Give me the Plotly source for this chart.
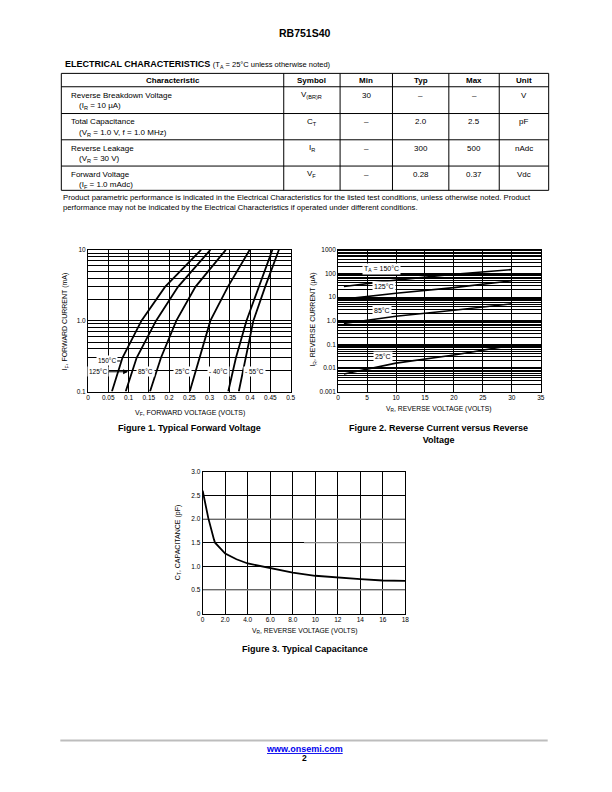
import numpy as np
import plotly.graph_objects as go

W, H = 612, 792
FONT = "Liberation Sans, Arial, sans-serif"


def px(x):
    return x / W


def py(y):
    return 1 - y / H


# ---------------- data ----------------
# Electrical characteristics table
col_headers = ["Characteristic", "Symbol", "Min", "Typ", "Max", "Unit"]
char_names = ["Reverse Breakdown Voltage", "Total Capacitance", "Reverse Leakage", "Forward Voltage"]
char_conds = ["(I<sub>R</sub> = 10 \u00b5A)", "(V<sub>R</sub> = 1.0 V, f = 1.0 MHz)",
              "(V<sub>R</sub> = 30 V)", "(I<sub>F</sub> = 1.0 mAdc)"]
symbols = ["V<sub>(BR)R</sub>", "C<sub>T</sub>", "I<sub>R</sub>", "V<sub>F</sub>"]
min_vals = ["30", "\u2013", "\u2013", "\u2013"]
typ_vals = ["\u2013", "2.0", "300", "0.28"]
max_vals = ["\u2013", "2.5", "500", "0.37"]
units = ["V", "pF", "nAdc", "Vdc"]

# Figure 1: forward voltage (V) vs forward current (mA)
fwd_current_mA = [0.1, 0.3, 1.0, 3.0, 10.0]
vf_150 = [0.059, 0.085, 0.132, 0.190, 0.279]
vf_125 = [0.093, 0.120, 0.168, 0.222, 0.302]
vf_85 = [0.153, 0.180, 0.218, 0.265, 0.340]
vf_25 = [0.251, 0.275, 0.302, 0.345, 0.399]
vf_m40 = [0.346, 0.365, 0.391, 0.421, 0.455]
vf_m55 = [0.372, 0.390, 0.408, 0.437, 0.471]
fig1_xticks = [0, 0.05, 0.1, 0.15, 0.2, 0.25, 0.3, 0.35, 0.4, 0.45, 0.5]
fig1_xtext = ["0", "0.05", "0.1", "0.15", "0.2", "0.25", "0.3", "0.35", "0.4", "0.45", "0.5"]
fig1_yticks = [0.1, 1.0, 10.0]
fig1_ytext = ["0.1", "1.0", "10"]

# Figure 2: reverse current (uA) vs reverse voltage (V)
rev_voltage = [1, 10, 20, 30]
ir_150 = [28, 52, 92, 145]
ir_125 = [8.2, 14.5, 25, 49]
ir_85 = [0.76, 1.55, 2.75, 5.2]
ir_25 = [0.0055, 0.016, 0.035, 0.09]
fig2_xticks = [0, 5, 10, 15, 20, 25, 30, 35]
fig2_yticks = [0.001, 0.01, 0.1, 1.0, 10, 100, 1000]
fig2_ytext = ["0.001", "0.01", "0.1", "1.0", "10", "100", "1000"]

# Figure 3: capacitance (pF) vs reverse voltage (V)
cap_vr = [0, 0.5, 1.0, 1.1, 2, 3, 4, 6, 8, 10, 12, 14, 16, 18]
cap_pf = [2.60, 2.02, 1.57, 1.50, 1.27, 1.15, 1.06, 0.96, 0.865, 0.80, 0.76, 0.73, 0.70, 0.69]
fig3_xticks = [0, 2, 4, 6, 8, 10, 12, 14, 16, 18]
fig3_xtext = ["0", "2.0", "4.0", "6.0", "8.0", "10", "12", "14", "16", "18"]
fig3_yticks = [0, 0.5, 1.0, 1.5, 2.0, 2.5, 3.0]
fig3_ytext = ["0", "0.5", "1.0", "1.5", "2.0", "2.5", "3.0"]
fig3_gray_rows = [0.5, 1.5, 2.0]
fig3_gray_from = [0, 9, 0]


def log_minors(lo_exp, hi_exp):
    out = []
    for e in range(lo_exp, hi_exp):
        for m in range(2, 10):
            out.append(m * 10.0 ** e)
    return out


# ---------------- figure ----------------
fig = go.Figure()

line_style = dict(color="black", width=1.8)
for v in [vf_150, vf_125, vf_85, vf_25, vf_m40, vf_m55]:
    fig.add_trace(go.Scatter(x=v, y=fwd_current_mA, xaxis="x", yaxis="y", mode="lines",
                             line=line_style, showlegend=False, hoverinfo="skip"))
for ir in [ir_150, ir_125, ir_85, ir_25]:
    fig.add_trace(go.Scatter(x=rev_voltage, y=ir, xaxis="x2", yaxis="y2", mode="lines",
                             line=dict(color="black", width=1.6), showlegend=False, hoverinfo="skip"))
fig.add_trace(go.Scatter(x=cap_vr, y=cap_pf, xaxis="x3", yaxis="y3", mode="lines",
                         line=dict(color="black", width=1.8), showlegend=False, hoverinfo="skip"))

TICK = 6.5


def axis(domain, anchor, **kw):
    d = dict(domain=domain, anchor=anchor, showline=True, mirror=True, linecolor="black",
             linewidth=1, showgrid=True, gridcolor="black", gridwidth=1, zeroline=False,
             ticks="", tickfont=dict(size=TICK, color="black", family=FONT), fixedrange=True)
    d.update(kw)
    return d


fig1_xd = [px(87), px(292)]
fig2_xd = [px(340), px(545)]
fig12_yd = [py(391), py(248)]
fig3_xd = [px(203), px(408)]
fig3_yd = [py(615), py(472)]

fig.update_layout(
    width=W, height=H, margin=dict(l=0, r=0, t=0, b=0),
    paper_bgcolor="white", plot_bgcolor="white",
    font=dict(family=FONT, color="black"),
    xaxis=axis(fig1_xd, "y", range=[0, 0.5], tickvals=fig1_xticks, ticktext=fig1_xtext),
    yaxis=axis(fig12_yd, "x", type="log", range=[-1, 1], tickvals=fig1_yticks, ticktext=fig1_ytext,
               minor=dict(tickvals=log_minors(-1, 1), showgrid=True, gridcolor="black", gridwidth=1)),
    xaxis2=axis(fig2_xd, "y2", range=[0, 35], tickvals=fig2_xticks),
    yaxis2=axis(fig12_yd, "x2", type="log", range=[-3, 3], tickvals=fig2_yticks, ticktext=fig2_ytext,
                minor=dict(tickvals=log_minors(-3, 3), showgrid=True, gridcolor="black", gridwidth=1)),
    xaxis3=axis(fig3_xd, "y3", range=[0, 18], tickvals=fig3_xticks, ticktext=fig3_xtext),
    yaxis3=axis(fig3_yd, "x3", range=[0, 3], tickvals=fig3_yticks, ticktext=fig3_ytext),
)

shapes = []
annotations = []


def txt(x, y, text, size=7, bold=False, xanchor="center", yanchor="middle", color="black", **kw):
    if bold:
        text = "<b>" + text + "</b>"
    d = dict(x=px(x), y=py(y), xref="paper", yref="paper", text=text, showarrow=False,
             xanchor=xanchor, yanchor=yanchor, font=dict(size=size, color=color, family=FONT))
    d.update(kw)
    annotations.append(d)


# Page title
txt(306, 29, "RB751S40", size=10.5, bold=True)

# Table heading
txt(62, 61, "<b>ELECTRICAL CHARACTERISTICS</b> <span style='font-size:7.5px'>(T<sub>A</sub> = 25\u00b0C unless otherwise noted)</span>",
    size=9, xanchor="left")

# Table grid
col_edges = [60, 285, 342, 395, 452, 503, 553]
row_edges = [70, 83.5, 110.5, 137, 163.5, 188]
for ce in col_edges:
    shapes.append(dict(type="line", xref="paper", yref="paper", x0=px(ce), x1=px(ce),
                       y0=py(row_edges[0]), y1=py(row_edges[-1]), line=dict(color="black", width=1)))
for re_ in row_edges:
    shapes.append(dict(type="line", xref="paper", yref="paper", x0=px(col_edges[0]), x1=px(col_edges[-1]),
                       y0=py(re_), y1=py(re_), line=dict(color="black", width=1)))

# Header
for j, h in enumerate(col_headers):
    txt((col_edges[j] + col_edges[j + 1]) / 2, (row_edges[0] + row_edges[1]) / 2 + 0.5, h, size=8, bold=True)

# Body
cols = [symbols, min_vals, typ_vals, max_vals, units]
for i in range(4):
    top = row_edges[i + 1]
    txt(68, top + 8.5, char_names[i], size=8, xanchor="left")
    txt(76, top + 19.5, char_conds[i], size=8, xanchor="left")
    for j, colv in enumerate(cols):
        cx = (col_edges[j + 1] + col_edges[j + 2]) / 2
        txt(cx, top + 8.5, colv[i], size=8)

# Footnote
txt(60, 200, "Product parametric performance is indicated in the Electrical Characteristics for the listed test conditions, unless otherwise noted. Product<br>"
    "performance may not be indicated by the Electrical Characteristics if operated under different conditions.",
    size=7.7, xanchor="left", align="left")

# Axis titles and captions
txt(190, 413, "V<sub>F</sub>, FORWARD VOLTAGE (VOLTS)", size=7)
txt(64, 320, "I<sub>F</sub>, FORWARD CURRENT (mA)", size=7, textangle=-90)
txt(190, 428, "Figure 1. Typical Forward Voltage", size=9, bold=True)

txt(442, 409, "V<sub>R</sub>, REVERSE VOLTAGE (VOLTS)", size=6.8)
txt(315, 318, "I<sub>R</sub>, REVERSE CURRENT (\u00b5A)", size=7, textangle=-90)
txt(442, 434, "Figure 2. Reverse Current versus Reverse<br>Voltage", size=9, bold=True)

txt(306, 633, "V<sub>R</sub>, REVERSE VOLTAGE (VOLTS)", size=6.8)
txt(178, 543, "C<sub>T</sub>, CAPACITANCE (pF)", size=7, textangle=-90)
txt(306, 651, "Figure 3. Typical Capacitance", size=9, bold=True)

# Figure 1 curve labels
lab_font = dict(size=6.5, color="black", family=FONT)
annotations.append(dict(x=0.0805, y=np.log10(0.27), xref="x", yref="y", text="150\u00b0C",
                        showarrow=True, arrowhead=0, arrowwidth=1, arrowcolor="black", ax=-14, ay=0,
                        bgcolor="white", font=lab_font, borderpad=1))
annotations.append(dict(x=0.099, y=np.log10(0.19), xref="x", yref="y", text="125\u00b0C",
                        showarrow=True, arrowhead=2, arrowsize=1, arrowwidth=1, arrowcolor="black",
                        ax=-30, ay=0, bgcolor="white", font=lab_font, borderpad=1))
for lx, lt in [(0.141, "85\u00b0C"), (0.234, "25\u00b0C"), (0.322, "- 40\u00b0C"), (0.41, "- 55\u00b0C")]:
    annotations.append(dict(x=lx, y=np.log10(0.19), xref="x", yref="y", text=lt, showarrow=False,
                            bgcolor="white", font=lab_font, borderpad=1))

# Figure 2 curve labels
lab2_font = dict(size=7, color="black", family=FONT)
for lx, ly, lt in [(7.5, 155, "T<sub>A</sub> = 150\u00b0C"), (7.85, 28, "125\u00b0C"),
                   (7.6, 2.75, "85\u00b0C"), (7.7, 0.030, "25\u00b0C")]:
    annotations.append(dict(x=lx, y=np.log10(ly), xref="x2", yref="y2", text=lt, showarrow=False,
                            bgcolor="white", font=lab2_font, borderpad=1))

# Figure 3 gray grid rows
for gy, gx0 in zip(fig3_gray_rows, fig3_gray_from):
    shapes.append(dict(type="line", xref="x3", yref="y3", x0=gx0, x1=18, y0=gy, y1=gy,
                       layer="between", line=dict(color="#8a8a8a", width=1.2)))

# Footer
shapes.append(dict(type="line", xref="paper", yref="paper", x0=px(59), x1=px(552), y0=py(743), y1=py(743),
                   line=dict(color="#bdbdbd", width=2)))
txt(306, 752, "<u>www.onsemi.com</u>", size=9, bold=True, color="#0000ee")
txt(306, 761, "2", size=8.5, bold=True)

fig.update_layout(shapes=shapes, annotations=annotations)
fig.write_html("out.html")
